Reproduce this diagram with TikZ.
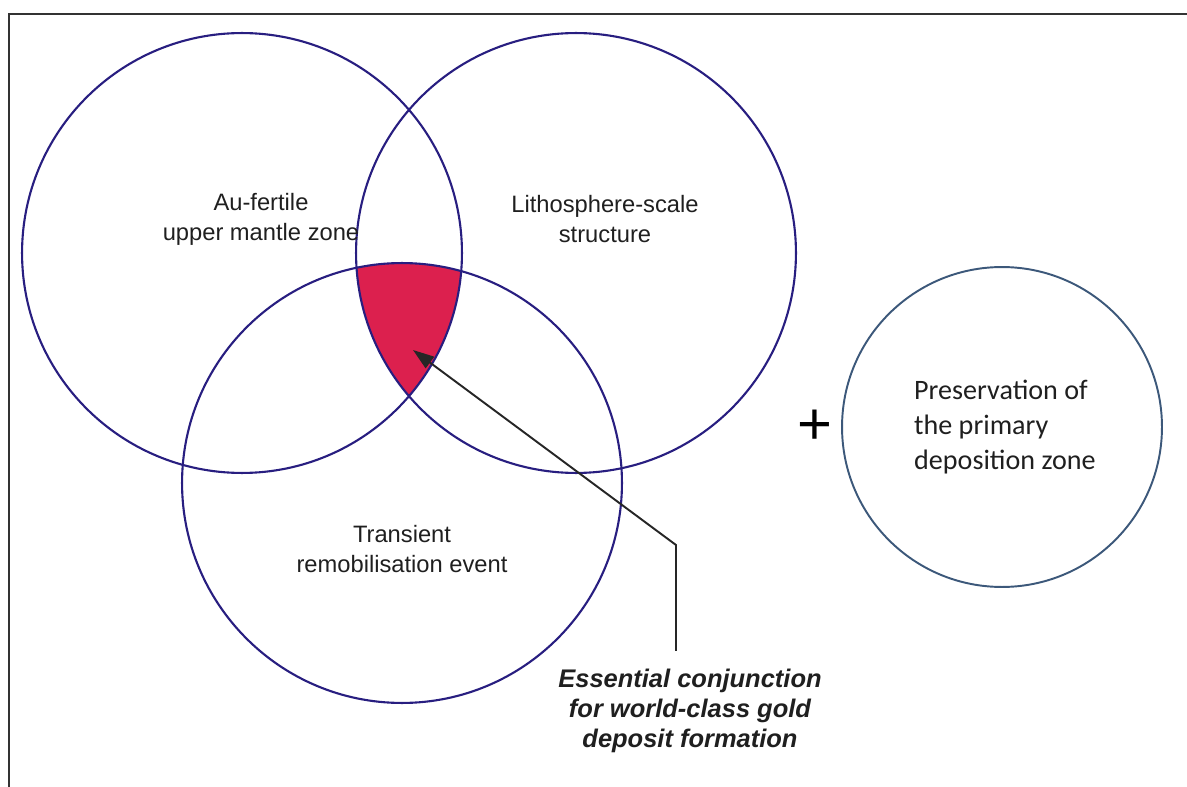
\documentclass[tikz,border=0pt]{standalone}
\usepackage{fontspec}
\setmainfont{Liberation Sans}
\newfontfamily\carlito{Carlito}
\usetikzlibrary{arrows.meta}

\definecolor{ringblue}{RGB}{40,30,128}
\definecolor{steelring}{RGB}{60,88,122}
\definecolor{goldcore}{RGB}{220,32,78}

\tikzset{
  ring/.style={circle, draw=ringblue, line width=1.2pt, minimum size=8.8cm, inner sep=0pt},
  ringtext/.style={align=center, text=black!88, font=\fontsize{13.5}{17}\selectfont}
}

\begin{document}
\begin{tikzpicture}[x=0.02cm, y=-0.02cm]
  \useasboundingbox (0,0) rectangle (1187,787);

  % Frame
  \draw[line width=0.9pt, black!80] (1187,14) -- (9,14) -- (9,787);

  % Overlap of the three zones
  \begin{scope}
    \clip (242,253) circle (4.4cm);
    \clip (576,253) circle (4.4cm);
    \fill[goldcore] (402,483) circle (4.4cm);
  \end{scope}

  % Zones
  \node[ring] (mantle) at (242,253) {};
  \node[ring] (litho) at (576,253) {};
  \node[ring] (remob) at (402,483) {};
  \node[ring, draw=steelring, line width=1.1pt, minimum size=6.4cm] (preserve) at (1002,427) {};

  % Zone texts
  \node[ringtext] (mantletext) at (261,219) {Au-fertile\\upper mantle zone};
  \node[ringtext] (lithotext) at (605,219) {Lithosphere-scale\\structure};
  \node[ringtext] (remobtext) at (402,549) {Transient\\remobilisation event};

  \node[font=\fontsize{34}{34}\selectfont] (plus) at (815,427) {+};
  \node[anchor=west, align=left, text=black!88, font=\carlito\fontsize{16}{20}\selectfont] (preservetext) at (908,427) {Preservation of\\the primary\\deposition zone};

  % Pointer to the overlap
  \node[align=center, text=black!88, font=\bfseries\itshape\fontsize{14.5}{17}\selectfont] (essential) at (690,711) {Essential conjunction\\for world-class gold\\deposit formation};
  \coordinate (bend) at (676,545);
  \coordinate (core) at (413,350);
  \draw[line width=1.1pt, black!85, -{Triangle[length=12pt, width=8pt]}] ([yshift=7pt]bend |- essential.north) -- (bend) -- (core);
\end{tikzpicture}
\end{document}
